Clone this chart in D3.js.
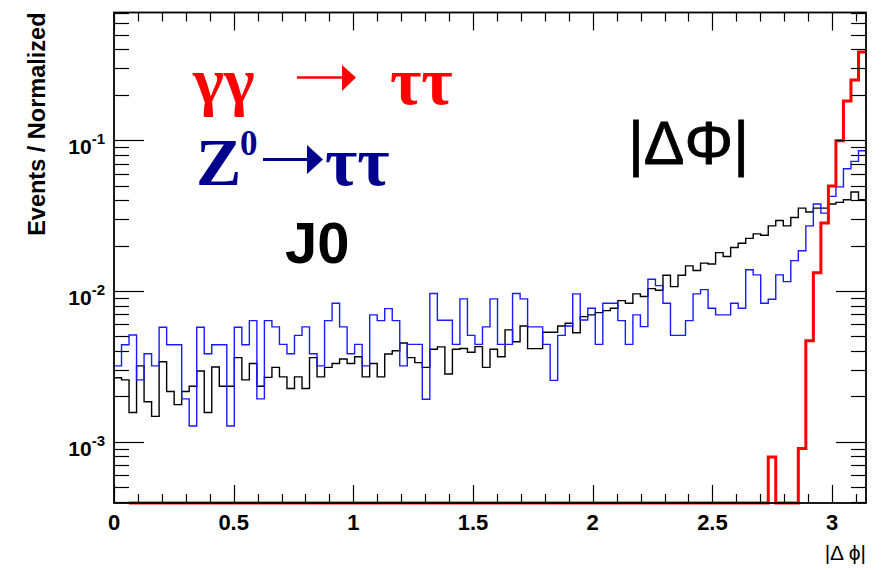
<!DOCTYPE html>
<html>
<head>
<meta charset="utf-8">
<script src="https://cdn.jsdelivr.net/npm/d3@7/dist/d3.min.js"></script>
<style>
  html, body { margin: 0; padding: 0; background: #ffffff; }
  svg { display: block; }
</style>
</head>
<body>
<svg id="chart" width="882" height="570"></svg>
<script>
// ---------------- DATA ----------------
const binCount = 100;
const xDomain = [0, Math.PI];

// J0 (black)
const blackValues = [
  2.65e-3, 2.57e-3, 1.56e-3, 3.18e-3, 1.84e-3, 1.47e-3, 3.39e-3, 2.15e-3, 1.76e-3, 2.15e-3,
  2.33e-3, 2.94e-3, 1.56e-3, 3.13e-3, 2.33e-3, 2.33e-3, 3.61e-3, 2.57e-3, 3.30e-3, 2.33e-3,
  2.67e-3, 3.11e-3, 2.69e-3, 2.25e-3, 2.69e-3, 2.25e-3, 3.61e-3, 2.69e-3, 3.11e-3, 3.30e-3,
  3.53e-3, 3.30e-3, 3.66e-3, 2.69e-3, 3.30e-3, 2.69e-3, 3.81e-3, 4.01e-3, 4.51e-3, 3.61e-3,
  3.34e-3, 3.11e-3, 4.10e-3, 4.25e-3, 2.81e-3, 4.10e-3, 4.15e-3, 3.92e-3, 4.27e-3, 3.11e-3,
  4.10e-3, 3.66e-3, 5.51e-3, 4.60e-3, 5.85e-3, 4.14e-3, 4.14e-3, 5.32e-3, 5.32e-3, 5.85e-3,
  6.10e-3, 5.28e-3, 6.75e-3, 6.93e-3, 7.18e-3, 7.40e-3, 7.67e-3, 8.62e-3, 8.29e-3, 9.55e-3,
  9.17e-3, 1.035e-2, 1.01e-2, 1.271e-2, 1.067e-2, 1.271e-2, 1.466e-2, 1.365e-2, 1.528e-2, 1.51e-2,
  1.795e-2, 1.69e-2, 1.94e-2, 2.07e-2, 2.23e-2, 2.39e-2, 2.34e-2, 2.70e-2, 2.93e-2, 2.70e-2,
  3.07e-2, 3.54e-2, 3.34e-2, 3.54e-2, 3.54e-2, 3.77e-2, 3.87e-2, 4.03e-2, 4.53e-2, 4.03e-2
];

// Z0 -> tautau (blue)
const blueValues = [
  3.18e-3, 4.39e-3, 5.10e-3, 2.57e-3, 3.83e-3, 3.18e-3, 5.74e-3, 4.39e-3, 4.39e-3, 1.92e-3,
  1.27e-3, 5.74e-3, 3.83e-3, 4.39e-3, 4.39e-3, 1.27e-3, 5.74e-3, 4.39e-3, 6.35e-3, 1.92e-3,
  6.35e-3, 5.77e-3, 4.42e-3, 3.83e-3, 5.07e-3, 5.77e-3, 3.83e-3, 3.18e-3, 6.35e-3, 8.29e-3,
  5.77e-3, 3.83e-3, 4.42e-3, 3.18e-3, 6.93e-3, 6.35e-3, 7.63e-3, 6.35e-3, 3.18e-3, 4.42e-3,
  4.42e-3, 1.91e-3, 9.60e-3, 6.38e-3, 6.38e-3, 4.42e-3, 8.85e-3, 5.07e-3, 4.42e-3, 5.77e-3,
  8.85e-3, 4.42e-3, 4.42e-3, 9.60e-3, 8.85e-3, 5.77e-3, 5.77e-3, 4.42e-3, 2.55e-3, 5.07e-3,
  5.85e-3, 9.55e-3, 6.41e-3, 7.67e-3, 4.42e-3, 8.29e-3, 8.29e-3, 6.35e-3, 4.42e-3, 6.93e-3,
  5.79e-3, 1.196e-2, 1.084e-2, 8.29e-3, 5.07e-3, 5.07e-3, 6.35e-3, 9.55e-3, 1.02e-2, 7.67e-3,
  6.93e-3, 6.93e-3, 8.29e-3, 7.67e-3, 1.38e-2, 1.277e-2, 8.29e-3, 8.81e-3, 1.277e-2, 1.153e-2,
  1.589e-2, 1.845e-2, 2.70e-2, 3.77e-2, 3.28e-2, 4.24e-2, 4.90e-2, 6.47e-2, 7.23e-2, 8.51e-2
];

// gamma gamma -> tautau (red); null = bin not drawn, 0 = empty bin
const redValues = [
  null, null, 0, 0, 0, 0, 0, 0, 0, 0,
  0, 0, 0, 0, 0, 0, 0, 0, 0, 0,
  0, 0, 0, 0, 0, 0, 0, 0, 0, 0,
  0, 0, 0, 0, 0, 0, 0, 0, 0, 0,
  0, 0, 0, 0, 0, 0, 0, 0, 0, 0,
  0, 0, 0, 0, 0, 0, 0, 0, 0, 0,
  0, 0, 0, 0, 0, 0, 0, 0, 0, 0,
  0, 0, 0, 0, 0, 0, 0, 0, 0, 0,
  0, 0, 0, 0, 0, 0, 0, 7.9e-4, 0, 0,
  0, 9.0e-4, 4.67e-3, 1.32e-2, 2.82e-2, 4.97e-2, 9.9e-2, 1.82e-1, 2.51e-1, 3.85e-1
];

const xTickValues = [0, 0.5, 1, 1.5, 2, 2.5, 3];
const xTickLabels = ["0", "0.5", "1", "1.5", "2", "2.5", "3"];
const yDecadeExponents = [-1, -2, -3];
const yAxisTitle = "Events / Normalized";
const xAxisTitle = "|\u0394 \u03d5|";

// ---------------- LAYOUT ----------------
const W = 882, H = 570;
const L = 114, R = 866, T = 12.5, B = 503;
const yDomain = [3.914e-4, 0.7036];

const svg = d3.select("#chart");
const x = d3.scaleLinear().domain(xDomain).range([L, R]);
const y = d3.scaleLog().domain(yDomain).range([B, T]);

const binW = (xDomain[1] - xDomain[0]) / binCount;
const edges = d3.range(binCount + 1).map(i => xDomain[0] + i * binW);

svg.append("defs").append("clipPath").attr("id", "plotclip")
  .append("rect").attr("x", L).attr("y", T - 2).attr("width", R - L).attr("height", B - T + 4);

function yVal(v) {
  return v <= yDomain[0] ? y(yDomain[0]) : y(v);
}

function histPath(values) {
  let d = "";
  let started = false;
  values.forEach((v, i) => {
    if (v === null) { started = false; return; }
    const x0 = x(edges[i]), x1 = x(edges[i + 1]);
    const yy = yVal(v);
    d += (started ? "L" : "M") + `${x0},${yy}L${x1},${yy}`;
    started = true;
  });
  return d;
}

const plot = svg.append("g").attr("clip-path", "url(#plotclip)");

plot.append("path").attr("d", histPath(blackValues))
  .attr("fill", "none").attr("stroke", "#000000").attr("stroke-width", 1.4);
plot.append("path").attr("d", histPath(blueValues))
  .attr("fill", "none").attr("stroke", "#1a1aff").attr("stroke-width", 1.4);
plot.append("path").attr("d", histPath(redValues))
  .attr("fill", "none").attr("stroke", "#ff0000").attr("stroke-width", 3);

// ---------------- AXES / FRAME ----------------
const axisG = svg.append("g").attr("stroke", "#000").attr("stroke-width", 1.2);

const xMinor = d3.range(0, 32).map(i => i / 10);
xMinor.forEach(v => {
  const isMajor = Math.abs(v * 2 - Math.round(v * 2)) < 1e-9;
  const len = isMajor ? 18 : 9;
  const px = Math.round(x(v)) + 0.5;
  axisG.append("line").attr("x1", px).attr("x2", px).attr("y1", B).attr("y2", B - len);
  axisG.append("line").attr("x1", px).attr("x2", px).attr("y1", T).attr("y2", T + len);
});

const yMinorVals = [];
for (let e = -4; e <= 0; e++) {
  for (let m = 1; m <= 9; m++) {
    const v = m * Math.pow(10, e);
    if (v >= yDomain[0] && v <= yDomain[1]) yMinorVals.push({ v, major: m === 1 });
  }
}
yMinorVals.forEach(t => {
  const len = t.major ? 30 : 15;
  const py = Math.round(y(t.v)) + 0.5;
  axisG.append("line").attr("x1", L).attr("x2", L + len).attr("y1", py).attr("y2", py);
  axisG.append("line").attr("x1", R).attr("x2", R - len).attr("y1", py).attr("y2", py);
});

svg.append("rect").attr("x", L).attr("y", T).attr("width", R - L).attr("height", B - T)
  .attr("fill", "none").attr("stroke", "#000").attr("stroke-width", 1.8);

const lab = svg.append("g").attr("font-family", "'Liberation Sans', Arial, sans-serif")
  .attr("font-weight", "bold").attr("fill", "#000");
xTickValues.forEach((v, i) => {
  lab.append("text").attr("x", x(v)).attr("y", 530).attr("text-anchor", "middle")
    .attr("font-size", 22).text(xTickLabels[i]);
});

yDecadeExponents.forEach(e => {
  const py = y(Math.pow(10, e));
  const t = lab.append("text").attr("x", 105).attr("y", py + 14).attr("text-anchor", "end")
    .attr("font-size", 21);
  t.append("tspan").text("10");
  t.append("tspan").attr("font-size", 15).attr("dy", -10).text(String(e));
});

lab.append("text").attr("transform", `translate(45,${T}) rotate(-90)`)
  .attr("text-anchor", "end").attr("font-size", 23.5).text(yAxisTitle);

svg.append("text").attr("x", R).attr("y", 560).attr("text-anchor", "end")
  .attr("font-family", "'Liberation Sans', Arial, sans-serif").attr("font-size", 21)
  .attr("fill", "#000").text(xAxisTitle);

// ---------------- ANNOTATIONS ----------------
const serif = "'Liberation Serif', 'Times New Roman', serif";
const red = "#ff0000", navy = "#00008c";

svg.append("text").attr("x", 193).attr("y", 103).attr("font-family", serif)
  .attr("font-weight", "bold").attr("font-size", 66).attr("fill", red).text("\u03b3\u03b3");
svg.append("line").attr("x1", 297).attr("x2", 344).attr("y1", 77.5).attr("y2", 77.5)
  .attr("stroke", red).attr("stroke-width", 2.5);
svg.append("path").attr("d", "M342,65 L356,77.5 L342,91 Z").attr("fill", red);
svg.append("text").attr("x", 390).attr("y", 104).attr("font-family", serif)
  .attr("font-weight", "bold").attr("font-size", 68).attr("fill", red).text("\u03c4\u03c4");

svg.append("text").attr("x", 196).attr("y", 185).attr("font-family", serif)
  .attr("font-weight", "bold").attr("font-size", 68).attr("fill", navy).text("Z");
svg.append("text").attr("x", 240).attr("y", 155).attr("font-family", serif)
  .attr("font-weight", "bold").attr("font-size", 35).attr("fill", navy).text("0");
svg.append("line").attr("x1", 263).attr("x2", 309).attr("y1", 159.5).attr("y2", 159.5)
  .attr("stroke", navy).attr("stroke-width", 3);
svg.append("path").attr("d", "M307,145 L323,159.5 L307,174 Z").attr("fill", navy);
svg.append("text").attr("x", 325).attr("y", 185).attr("font-family", serif)
  .attr("font-weight", "bold").attr("font-size", 70).attr("fill", navy).text("\u03c4\u03c4");

svg.append("text").attr("x", 285).attr("y", 263).attr("font-family", "'Liberation Sans', Arial, sans-serif")
  .attr("font-weight", "bold").attr("font-size", 58).attr("fill", "#000").text("J0");

svg.append("text").attr("x", 628).attr("y", 164).attr("font-family", "'Liberation Sans', Arial, sans-serif")
  .attr("font-size", 61).attr("stroke", "#000").attr("stroke-width", 0.8)
  .attr("fill", "#000").text("|\u0394\u03a6|");
</script>
</body>
</html>
